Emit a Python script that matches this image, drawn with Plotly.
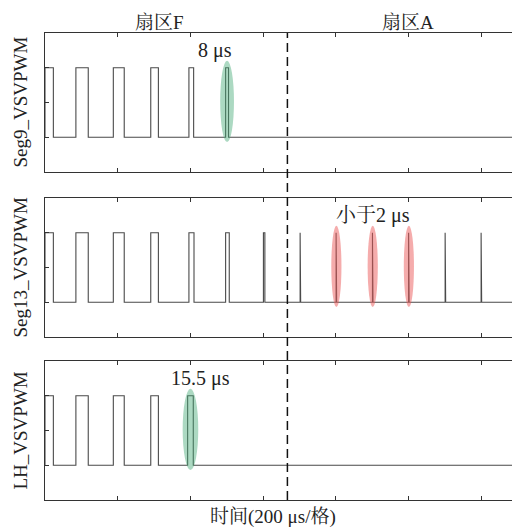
import plotly.graph_objects as go

# ---------------- data (time in microseconds) ----------------
panel_names = ["Seg9_VSVPWM", "Seg13_VSVPWM", "LH_VSVPWM"]

seg9_rise = [0, 85, 188, 291, 396, 497]
seg9_fall = [23, 119, 218, 312, 409, 505]

seg13_rise = [0, 85, 188, 291, 396, 497, 601, 702, 801, 901, 1000.5, 1101, 1200]
seg13_fall = [23, 119, 218, 312, 410, 507, 605, 703.5, 802.5, 902.5, 1002, 1102.5, 1201.5]

lh_rise = [0, 85, 188, 291, 392.5]
lh_fall = [23, 119, 218, 312, 408]

t_end = 1285
sector_boundary = 667
x_ticks = [0, 200, 400, 600, 800, 1000, 1200, 1400]

sector_labels = ["扇区F", "扇区A"]
sector_label_x = [316, 999]

highlight_idx = [[5], [8, 9, 10], [4]]
highlight_text = ["8 μs", "小于2 μs", "15.5 μs"]
highlight_text_x = [468, 903, 427]
xlabel = "时间(200 μs/格)"

# ---------------- figure ----------------
FONT = "Liberation Serif, 'Noto Serif CJK SC', 'Noto Sans CJK SC', serif"
W, H = 512, 527
ml, mr, mt, mb = 45, 0, 33, 27
ph = H - mt - mb

def frac(py):
    return (H - mb - py) / ph

domains = [[frac(172), 1.0], [frac(337), frac(198)], [0.0, frac(361)]]

def steps(rise, fall):
    xs, ys = [], []
    for r, f in zip(rise, fall):
        xs += [r, r, f, f]
        ys += [0, 1, 1, 0]
    xs.append(t_end)
    ys.append(0)
    return xs, ys

signals = [(seg9_rise, seg9_fall), (seg13_rise, seg13_fall), (lh_rise, lh_fall)]
ell_half = [19, 14, 21.5]
ell_colors = ["rgba(70,170,120,0.45)", "rgba(235,90,90,0.5)", "rgba(70,170,120,0.45)"]

fig = go.Figure()
shapes = []
annotations = []
for i, (rise, fall) in enumerate(signals):
    xs, ys = steps(rise, fall)
    ax = "" if i == 0 else str(i + 1)
    fig.add_trace(go.Scatter(x=xs, y=ys, mode="lines",
                             line=dict(color="#4a4a4a", width=1.1),
                             xaxis="x" + ax, yaxis="y" + ax, showlegend=False,
                             hoverinfo="skip"))
    for k in highlight_idx[i]:
        c = (rise[k] + fall[k]) / 2
        shapes.append(dict(type="circle", xref="x" + ax, yref="y" + ax,
                           x0=c - ell_half[i], x1=c + ell_half[i], y0=-0.07, y1=1.1,
                           fillcolor=ell_colors[i], line=dict(width=0), layer="above"))
    annotations.append(dict(text=highlight_text[i], x=highlight_text_x[i], y=1.25,
                            xref="x" + ax, yref="y" + ax, showarrow=False,
                            font=dict(family=FONT, size=20, color="#222")))
    annotations.append(dict(text=panel_names[i], x=(20 - ml) / (W - ml - mr),
                            y=sum(domains[i]) / 2, xref="paper", yref="paper",
                            textangle=-90, showarrow=False, xanchor="center", yanchor="middle",
                            font=dict(family=FONT, size=19, color="#222")))

for lab, lx in zip(sector_labels, sector_label_x):
    annotations.append(dict(text=lab, x=lx, y=frac(22), xref="x", yref="paper",
                            showarrow=False, yanchor="middle",
                            font=dict(family=FONT, size=19, color="#222")))
annotations.append(dict(text=xlabel, x=(273 - ml) / (W - ml - mr), y=frac(517),
                        xref="paper", yref="paper", showarrow=False, yanchor="middle",
                        font=dict(family=FONT, size=19, color="#222")))

shapes.append(dict(type="line", xref="x", yref="paper", x0=sector_boundary, x1=sector_boundary,
                   y0=0, y1=1, line=dict(color="#111", width=1.5, dash="9px,5px")))

xcommon = dict(range=[0, t_end], tickvals=x_ticks, ticks="inside", ticklen=4,
               tickcolor="#333", showticklabels=False, showline=True, linecolor="#333",
               linewidth=1.3, mirror="ticks", showgrid=False, zeroline=False)
ycommon = dict(range=[-0.5, 1.5], tickvals=[0, 0.5, 1], ticks="inside", ticklen=4,
               tickcolor="#333", showticklabels=False, showline=True, linecolor="#333",
               linewidth=1.3, showgrid=False, zeroline=False)

layout = dict(width=W, height=H, margin=dict(l=ml, r=mr, t=mt, b=mb),
              plot_bgcolor="white", paper_bgcolor="white",
              shapes=shapes, annotations=annotations, showlegend=False)
for i in range(3):
    ax = "" if i == 0 else str(i + 1)
    layout["xaxis" + ax] = dict(xcommon, anchor="y" + ax, domain=[0, 1])
    layout["yaxis" + ax] = dict(ycommon, anchor="x" + ax, domain=domains[i])

fig.update_layout(**layout)
fig.write_html("out.html")
